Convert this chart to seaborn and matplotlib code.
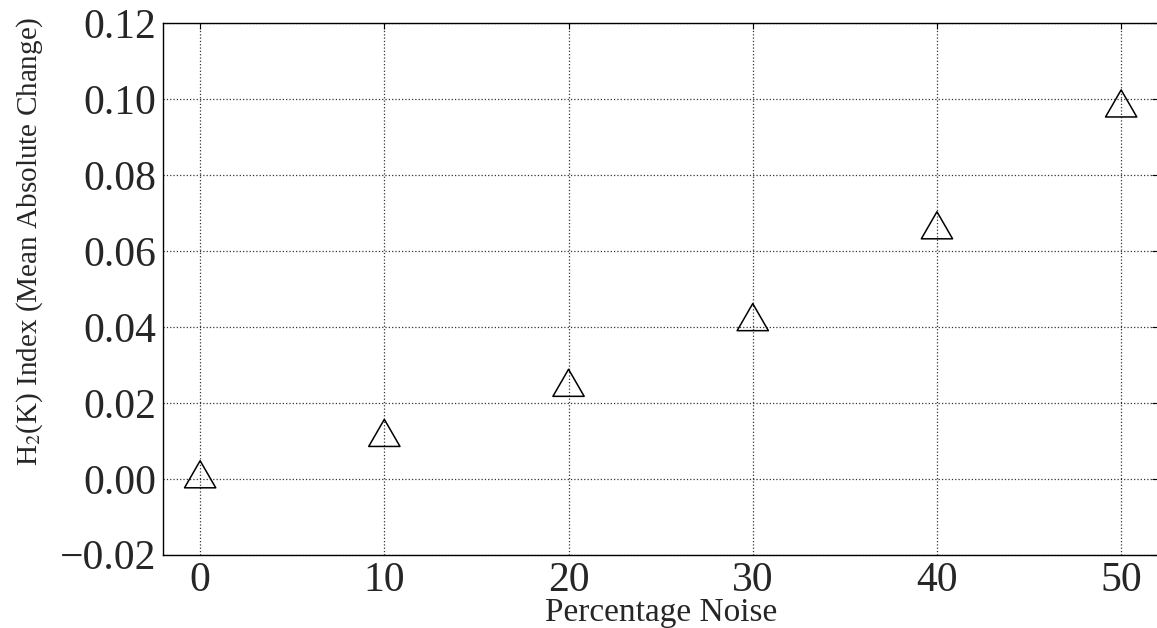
import matplotlib
matplotlib.use("Agg")
import matplotlib.pyplot as plt
import seaborn as sns
import pandas as pd

# Noise level (%) and the resulting H2(K) index
noise_pct = [0, 10, 20, 30, 40, 50]
h2_index = [0.000, 0.0109, 0.0241, 0.0414, 0.0656, 0.0977]

x_ticks = [0, 10, 20, 30, 40, 50]
y_ticks = [-0.02, 0.00, 0.02, 0.04, 0.06, 0.08, 0.10, 0.12]

sns.set_style("white")
plt.rcParams["font.family"] = ["Liberation Serif", "DejaVu Serif"]
plt.rcParams["mathtext.fontset"] = "stix"

df = pd.DataFrame({"noise": noise_pct, "h2": h2_index})

W, H = 1157, 628
fig = plt.figure(figsize=(W / 100, H / 100), dpi=100)
left, right, top, bottom = 163.3, 1158.0, 23.3, 554.7
ax = fig.add_axes([left / W, 1 - bottom / H, (right - left) / W, (bottom - top) / H])

sns.scatterplot(data=df, x="noise", y="h2", ax=ax, marker=(3, 0, 0), s=26 ** 2,
                facecolor="none", edgecolor="black", linewidth=1.1, zorder=3)

ax.set_xlim(-2, 52)
ax.set_ylim(-0.02, 0.12)
ax.set_xticks(x_ticks)
ax.set_yticks(y_ticks)
ax.set_xticklabels([str(v) for v in x_ticks])
ax.set_yticklabels([f"{v:.2f}".replace("-", "\u2212") for v in y_ticks])

ax.grid(True, linestyle=":", color="black", linewidth=0.9, alpha=0.8)
ax.set_axisbelow(True)
for sp in ax.spines.values():
    sp.set_color("black")
    sp.set_linewidth(1.0)

ax.tick_params(axis="both", direction="in", length=4, width=0.8, color="black",
               labelsize=30, top=True, right=True, pad=5)

ax.set_xlabel("Percentage Noise", fontsize=24, labelpad=-2)
ax.set_ylabel(r"H$_2$(K) Index (Mean Absolute Change)", fontsize=21)
ax.yaxis.set_label_coords(-0.119, 0.589)

fig.savefig("out.png", dpi=100)
